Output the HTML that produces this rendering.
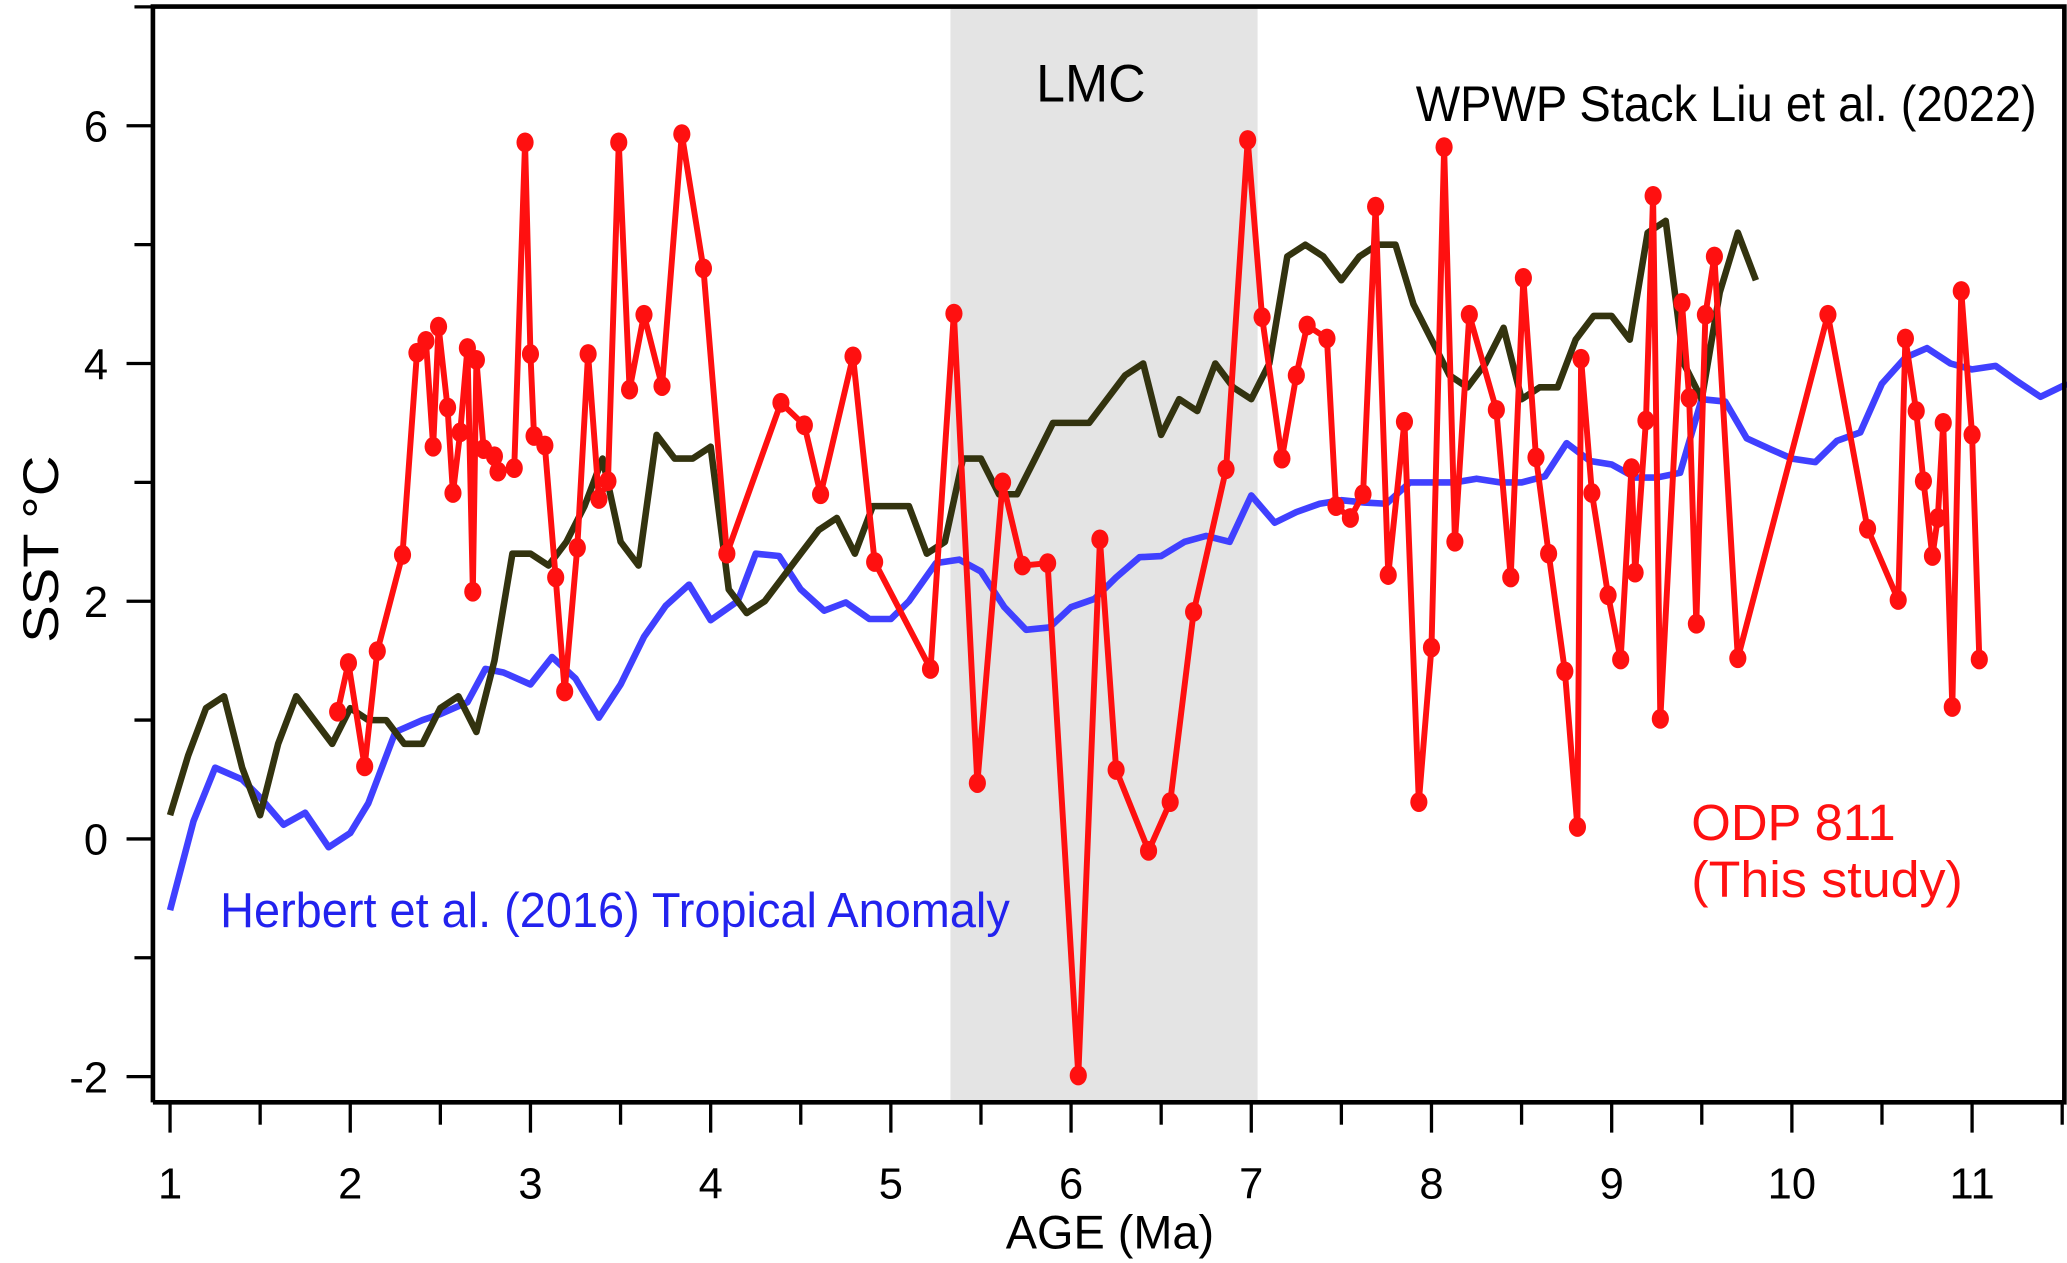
<!DOCTYPE html>
<html><head><meta charset="utf-8"><style>
html,body{margin:0;padding:0;background:#fff;}
svg{display:block;}
text{font-family:"Liberation Sans",sans-serif;}
</style></head><body>
<svg id="chart" width="2067" height="1263" viewBox="0 0 1568 959" preserveAspectRatio="none" xmlns="http://www.w3.org/2000/svg">
<rect x="721" y="5" width="233" height="832" fill="#e4e4e4"/>
<g id="series"></g>
<g id="axes"></g>
<text x="786" y="77" font-size="40" textLength="83" lengthAdjust="spacingAndGlyphs" fill="#000">LMC</text>
<text x="1074" y="92" font-size="38" textLength="471" lengthAdjust="spacingAndGlyphs" fill="#000">WPWP Stack Liu et al. (2022)</text>
<text x="167" y="704" font-size="37" textLength="599" lengthAdjust="spacingAndGlyphs" fill="#2222ee">Herbert et al. (2016) Tropical Anomaly</text>
<text x="1283" y="638" font-size="39" textLength="155" lengthAdjust="spacingAndGlyphs" fill="#ff1111">ODP 811</text>
<text x="1283" y="681" font-size="39" textLength="206" lengthAdjust="spacingAndGlyphs" fill="#ff1111">(This study)</text>
<text x="0" y="0" font-size="38" textLength="142" lengthAdjust="spacingAndGlyphs" text-anchor="middle" transform="translate(44,417) rotate(-90)">SST °C</text>
<text x="763" y="948" font-size="36" textLength="158" lengthAdjust="spacingAndGlyphs">AGE (Ma)</text>
</svg>
<script>
const redAge=[1.93,1.99,2.08,2.15,2.29,2.37,2.42,2.46,2.49,2.54,2.57,2.61,2.65,2.68,2.70,2.74,2.80,2.82,2.91,2.97,3.00,3.02,3.08,3.14,3.19,3.26,3.32,3.38,3.43,3.49,3.55,3.63,3.73,3.84,3.96,4.09,4.39,4.52,4.61,4.79,4.91,5.22,5.35,5.48,5.62,5.73,5.87,6.04,6.16,6.25,6.43,6.55,6.68,6.86,6.98,7.06,7.17,7.25,7.31,7.42,7.47,7.55,7.62,7.69,7.76,7.85,7.93,8.00,8.07,8.13,8.21,8.36,8.44,8.51,8.58,8.65,8.74,8.81,8.83,8.89,8.98,9.05,9.11,9.13,9.19,9.23,9.27,9.39,9.43,9.47,9.52,9.57,9.70,10.20,10.42,10.59,10.63,10.69,10.73,10.78,10.81,10.84,10.89,10.94,11.00,11.04];
const redSST=[1.07,1.48,0.61,1.58,2.39,4.09,4.19,3.30,4.31,3.63,2.91,3.42,4.13,2.08,4.03,3.28,3.22,3.09,3.12,5.86,4.08,3.39,3.31,2.20,1.24,2.45,4.08,2.86,3.01,5.86,3.78,4.41,3.81,5.93,4.80,2.40,3.67,3.48,2.90,4.06,2.33,1.43,4.42,0.47,3.00,2.30,2.32,-1.99,2.52,0.58,-0.10,0.31,1.91,3.11,5.88,4.39,3.20,3.90,4.32,4.21,2.80,2.70,2.90,5.32,2.22,3.51,0.31,1.61,5.82,2.50,4.41,3.61,2.20,4.72,3.21,2.40,1.41,0.10,4.04,2.91,2.05,1.51,3.12,2.24,3.52,5.41,1.01,4.51,3.71,1.81,4.41,4.90,1.52,4.41,2.61,2.01,4.21,3.60,3.01,2.38,2.70,3.50,1.11,4.61,3.40,1.51];
const wpwpAge=[1.0,1.1,1.2,1.3,1.4,1.5,1.6,1.7,1.8,1.9,2.0,2.1,2.2,2.3,2.4,2.5,2.6,2.7,2.8,2.9,3.0,3.1,3.2,3.3,3.4,3.5,3.6,3.7,3.8,3.9,4.0,4.1,4.2,4.3,4.4,4.5,4.6,4.7,4.8,4.9,5.0,5.1,5.2,5.3,5.4,5.5,5.6,5.7,5.8,5.9,6.0,6.1,6.2,6.3,6.4,6.5,6.6,6.7,6.8,6.9,7.0,7.1,7.2,7.3,7.4,7.5,7.6,7.7,7.8,7.9,8.0,8.1,8.2,8.3,8.4,8.5,8.6,8.7,8.8,8.9,9.0,9.1,9.2,9.3,9.4,9.5,9.6,9.7,9.8];
const wpwpSST=[0.2,0.7,1.1,1.2,0.6,0.2,0.8,1.2,1.0,0.8,1.1,1.0,1.0,0.8,0.8,1.1,1.2,0.9,1.5,2.4,2.4,2.3,2.5,2.8,3.2,2.5,2.3,3.4,3.2,3.2,3.3,2.1,1.9,2.0,2.2,2.4,2.6,2.7,2.4,2.8,2.8,2.8,2.4,2.5,3.2,3.2,2.9,2.9,3.2,3.5,3.5,3.5,3.7,3.9,4.0,3.4,3.7,3.6,4.0,3.8,3.7,4.0,4.9,5.0,4.9,4.7,4.9,5.0,5.0,4.5,4.2,3.9,3.8,4.0,4.3,3.7,3.8,3.8,4.2,4.4,4.4,4.2,5.1,5.2,4.0,3.7,4.6,5.1,4.7];
const herbAge=[1.0,1.13,1.25,1.4,1.5,1.63,1.75,1.88,2.0,2.1,2.25,2.4,2.5,2.65,2.75,2.85,3.0,3.12,3.25,3.38,3.5,3.63,3.75,3.88,4.0,4.15,4.25,4.38,4.5,4.63,4.75,4.88,5.0,5.1,5.25,5.38,5.5,5.63,5.75,5.88,6.0,6.13,6.25,6.38,6.5,6.63,6.75,6.88,7.0,7.13,7.25,7.38,7.5,7.63,7.75,7.88,8.0,8.13,8.25,8.38,8.5,8.63,8.75,8.88,9.0,9.13,9.25,9.38,9.5,9.63,9.75,9.88,10.0,10.13,10.25,10.38,10.5,10.63,10.75,10.88,11.0,11.13,11.25,11.38,11.53];
const herbSST=[-0.6,0.15,0.6,0.5,0.35,0.12,0.22,-0.07,0.05,0.3,0.9,1.0,1.05,1.15,1.43,1.4,1.3,1.53,1.35,1.02,1.3,1.7,1.96,2.14,1.84,2.0,2.4,2.38,2.1,1.92,1.99,1.85,1.85,2.0,2.32,2.35,2.25,1.95,1.76,1.78,1.95,2.02,2.2,2.37,2.38,2.5,2.55,2.5,2.89,2.66,2.75,2.82,2.85,2.83,2.82,3.0,3.0,3.0,3.03,3.0,3.0,3.05,3.33,3.18,3.15,3.04,3.04,3.08,3.7,3.68,3.37,3.28,3.2,3.17,3.35,3.42,3.83,4.05,4.13,4.0,3.95,3.98,3.85,3.72,3.83];
const xTicks=[1,2,3,4,5,6,7,8,9,10,11];
const yTicks=[-2,0,2,4,6];

const NS='http://www.w3.org/2000/svg';
const X=a=>129+(a-1)*136.7;
const Y=v=>637-v*90.25;
const series=document.getElementById('series');
const axes=document.getElementById('axes');
function mk(tag,attrs,parent){const e=document.createElementNS(NS,tag);for(const k in attrs)e.setAttribute(k,attrs[k]);parent.appendChild(e);return e;}
function pts(ax,ay){return ax.map((a,i)=>X(a).toFixed(1)+','+Y(ay[i]).toFixed(1)).join(' ');}

let l=mk('polyline',{points:pts(herbAge,herbSST),fill:'none',stroke:'#4040ff','stroke-width':5,'stroke-linejoin':'round'},series);


l=mk('polyline',{points:pts(wpwpAge,wpwpSST),fill:'none',stroke:'#33330f','stroke-width':5,'stroke-linejoin':'round'},series);


l=mk('polyline',{points:pts(redAge,redSST),fill:'none',stroke:'#ff1010','stroke-width':4.5,'stroke-linejoin':'round'},series);


redAge.forEach((a,i)=>{
  const c=mk('ellipse',{cx:X(a),cy:Y(redSST[i]),rx:6.5,ry:7.5,fill:'#ff1010'},series);
  
  
});

let f=mk('path',{d:'M116,837 V5 H1566 V837 H116',fill:'none',stroke:'#000','stroke-width':3.5},axes);


for(let a=1;a<=11.5;a+=0.5){
  const major=Math.abs(a-Math.round(a))<1e-6;
  const t=mk('line',{x1:X(a),x2:X(a),y1:837,y2:major?860:854,stroke:'#000','stroke-width':2.5},axes);
  
  
}
xTicks.forEach(v=>{
  const t=mk('text',{x:X(v),y:910,'font-size':33,'text-anchor':'middle'},axes);
  t.textContent=v;
  
  
});
for(let v=-2;v<=7;v++){
  const t=mk('line',{x1:v%2===0?96:102,x2:116,y1:Y(v),y2:Y(v),stroke:'#000','stroke-width':2.5},axes);
  
  
}
yTicks.forEach(v=>{
  const t=mk('text',{x:82,y:Y(v)+12,'font-size':33,'text-anchor':'end'},axes);
  t.textContent=v;
  
  
});
</script>
</body></html>
